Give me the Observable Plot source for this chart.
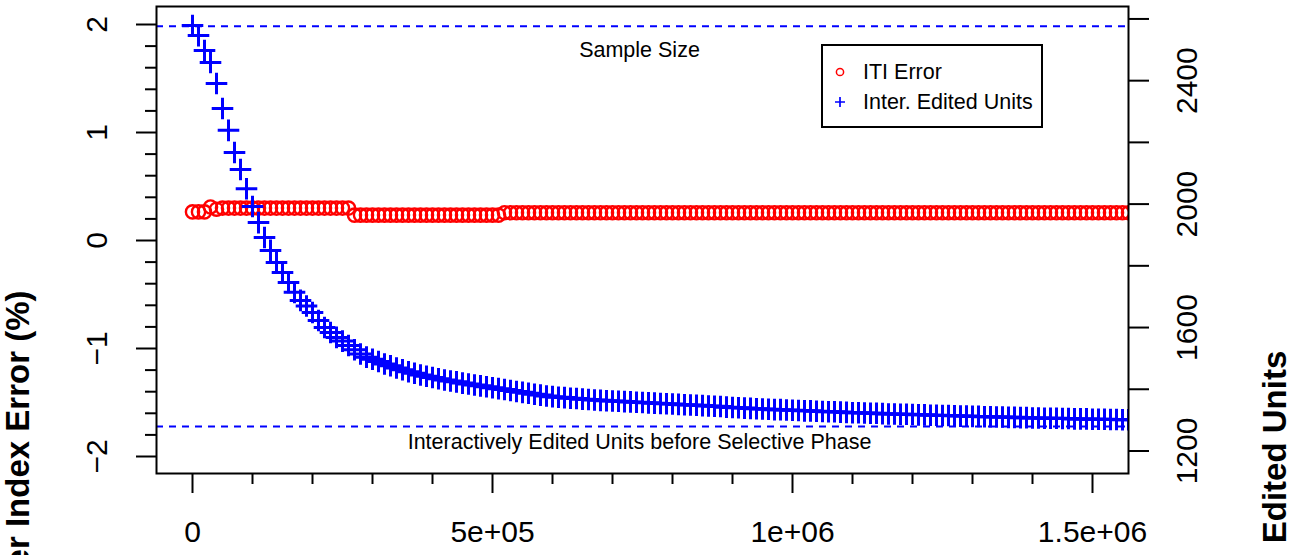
<!DOCTYPE html>
<html><head><meta charset="utf-8">
<script src="https://cdn.jsdelivr.net/npm/d3@7"></script>
<script src="https://cdn.jsdelivr.net/npm/@observablehq/plot@0.6"></script>
<style>
body{margin:0;background:#fff;}
#wrap{position:relative;width:1292px;height:555px;font-family:"Liberation Sans",Arial,sans-serif;background:#fff;}
#legend{position:absolute;left:821px;top:44px;width:222px;height:84px;box-sizing:border-box;border:2px solid #000;background:#fff;}
.sym{position:absolute;left:9px;width:16px;height:16px;}
.lab{position:absolute;left:40px;font-size:21.5px;line-height:24px;white-space:nowrap;color:#000;}
</style></head><body><div id="wrap"></div>
<script>
// ---- data ----
const xStep = 10000;
const itiError = [
0.265,0.265,0.265,0.31,0.29,0.30,0.30,
0.30,0.30,0.30,0.30,0.30,0.30,0.30,0.30,0.30,0.30,0.30,0.30,0.30,0.30,0.30,0.30,0.30,0.30,0.30,0.30,
0.235,0.235,0.235,0.235,0.235,0.235,0.235,0.235,0.235,0.235,0.235,0.235,0.235,0.235,0.235,0.235,0.235,0.235,0.235,0.235,0.235,0.235,0.235,0.235,0.235,
0.257,0.257,0.257,0.257,0.257,0.257,0.257,0.257,0.257,0.257,0.257,0.257,0.257,0.257,0.257,0.257,0.257,0.257,0.257,0.257,
0.257,0.257,0.257,0.257,0.257,0.257,0.257,0.257,0.257,0.257,0.257,0.257,0.257,0.257,0.257,0.257,0.257,0.257,0.257,0.257,
0.257,0.257,0.257,0.257,0.257,0.257,0.257,0.257,0.257,0.257,0.257,0.257,0.257,0.257,0.257,0.257,0.257,0.257,0.257,0.257,
0.257,0.257,0.257,0.257,0.257,0.257,0.257,0.257,0.257,0.257,0.257,0.257,0.257,0.257,0.257,0.257,0.257,0.257,0.257,0.257,
0.257,0.257,0.257,0.257,0.257,0.257,0.257,0.257,0.257,0.257,0.257,0.257,0.257,0.257,0.257,0.257,0.257,0.257,0.257,0.257,
0.257,0.257,0.257,0.257,0.257
];
const editedUnits = [
2579,2546,2498,2459,2391,2310,2239,2167,2112,2050,
1992,1940,1892,1850,1811,1778,1746,1714,1688,1670,
1649,1623,1600,1584,1568,1556,1542,1528,1514,1504,
1497,1490,1482,1476,1469,1463,1457,1452,1446,1442,
1438,1434,1430,1427,1424,1420,1417,1414,1411,1408,
1405,1402,1399,1396,1393,1390,1387,1384,1381,1378,
1376,1374,1373,1371,1370,1368,1367,1365,1364,1363,
1362,1361,1360,1359,1358,1357,1356,1355,1354,1353,
1352,1351,1350,1349,1348,1347,1346,1345,1344,1342,
1341,1340,1339,1338,1337,1336,1335,1334,1334,1333,
1332,1331,1330,1330,1329,1328,1327,1327,1326,1325,
1324,1324,1323,1322,1322,1321,1320,1320,1319,1319,
1318,1317,1317,1316,1316,1315,1315,1314,1313,1313,
1312,1312,1311,1311,1310,1310,1309,1309,1308,1308,
1307,1307,1306,1306,1306,1305,1305,1304,1304,1304,
1303,1303,1303,1302,1302,1301,1301
];
const sampleSize = 2576;
const unitsBeforeSelective = 1279;
const xTicks = [0, 500000, 1000000, 1500000];
const xTickLabels = ["0", "5e+05", "1e+06", "1.5e+06"];
const xMinorTicks = [100000,200000,300000,400000,600000,700000,800000,900000,1100000,1200000,1300000,1400000];
const leftTicks = [-2, -1, 0, 1, 2];
const leftTickLabels = ["\u22122", "\u22121", "0", "1", "2"];
const leftMinorTicks = [-1.8,-1.6,-1.4,-1.2,-0.8,-0.6,-0.4,-0.2,0.2,0.4,0.6,0.8,1.2,1.4,1.6,1.8];
const rightTicks = [1200, 1400, 1600, 1800, 2000, 2200, 2400, 2600];
const rightTickLabels = ["1200", "", "1600", "", "2000", "", "2400", ""];
const annotations = [
  {x: 745000, v: 2500, label: "Sample Size"},
  {x: 745000, v: 1230, label: "Interactively Edited Units before Selective Phase"}
];

// ---- secondary axis mapping (right axis units -> left axis units) ----
const rightAtLeftZero = 1882.05, rightPerLeft = 349.97;
const toL = v => (v - rightAtLeftZero) / rightPerLeft;

const redData = itiError.map((v, i) => ({x: i * xStep, y: v}));
const blueData = editedUnits.map((v, i) => ({x: i * xStep, y: toL(v)}));

const FS = 30;
const chart = Plot.plot({
  width: 1292, height: 555,
  marginLeft: 156, marginRight: 164, marginTop: 6, marginBottom: 82,
  x: {domain: [-60000, 1560000], axis: null},
  y: {domain: [-2.1574, 2.1667], axis: null},
  style: {fontFamily: "'Liberation Sans', Arial, sans-serif", background: "#fff", color: "#000"},
  marks: [
    Plot.ruleY([toL(sampleSize), toL(unitsBeforeSelective)], {stroke: "blue", strokeWidth: 2, strokeDasharray: "7,6"}),
    Plot.dot(redData, {x: "x", y: "y", r: 6.6, stroke: "red", strokeWidth: 2.4, fill: "none", clip: true}),
    Plot.dot(blueData, {x: "x", y: "y", symbol: "plus", r: 7, stroke: "blue", strokeWidth: 3, clip: true}),
    Plot.text(annotations, {x: "x", y: d => toL(d.v), text: "label", fontSize: 21.5, fill: "#000"}),
    Plot.frame({stroke: "#000", strokeWidth: 2}),
    Plot.axisY({ticks: leftTicks, anchor: "left", tickSize: 20, tickFormat: () => "", label: null, strokeWidth: 2}),
    Plot.axisY({ticks: leftMinorTicks, anchor: "left", tickSize: 11, tickFormat: () => "", label: null, strokeWidth: 2}),
    Plot.axisY({ticks: rightTicks.map(toL), anchor: "right", tickSize: 20, tickFormat: () => "", label: null, strokeWidth: 2}),
    Plot.axisX({ticks: xTicks, anchor: "bottom", tickSize: 20, tickFormat: () => "", label: null, strokeWidth: 2}),
    Plot.axisX({ticks: xMinorTicks, anchor: "bottom", tickSize: 11, tickFormat: () => "", label: null, strokeWidth: 2}),
    Plot.text(leftTicks, {y: d => d, text: (d, i) => leftTickLabels[i], frameAnchor: "left", dx: -59, rotate: -90, fontSize: FS, textAnchor: "middle", lineAnchor: "middle", fill: "#000"}),
    Plot.text(rightTicks, {y: d => toL(d), text: (d, i) => rightTickLabels[i], frameAnchor: "right", dx: 59, rotate: -90, fontSize: FS, textAnchor: "middle", lineAnchor: "middle", fill: "#000"}),
    Plot.text(xTicks, {x: d => d, text: (d, i) => xTickLabels[i], frameAnchor: "bottom", dy: 59, fontSize: FS, lineAnchor: "middle", fill: "#000"}),
    Plot.text(["Edited Units"], {text: d => d, frameAnchor: "right", dx: 147, dy: 207, rotate: -90, fontSize: 33, fontWeight: "bold", textAnchor: "middle", lineAnchor: "middle", fill: "#000"}),
    Plot.text(["er Index Error (%)"], {text: d => d, frameAnchor: "left", dx: -138, dy: 50.5, rotate: -90, textAnchor: "end", fontSize: 33, fontWeight: "bold", lineAnchor: "middle", fill: "#000"})
  ]
});
const wrap = document.getElementById("wrap");
wrap.appendChild(chart);
chart.style.position = "absolute"; chart.style.left = "0"; chart.style.top = "0";

// ---- legend ----
const legendItems = [
  {label: "ITI Error", color: "red", shape: "circle"},
  {label: "Inter. Edited Units", color: "blue", shape: "plus"}
];
const leg = document.createElement("div");
leg.id = "legend";
legendItems.forEach((it, k) => {
  const cy = 26 + k * 30;
  const s = document.createElementNS("http://www.w3.org/2000/svg", "svg");
  s.setAttribute("class", "sym"); s.setAttribute("width", 16); s.setAttribute("height", 16);
  s.style.top = (cy - 8) + "px";
  s.innerHTML = it.shape === "circle"
    ? `<circle cx="8" cy="8" r="3.6" fill="none" stroke="${it.color}" stroke-width="1.5"/>`
    : `<path d="M3,8H13M8,3V13" stroke="${it.color}" stroke-width="1.7" fill="none"/>`;
  leg.appendChild(s);
  const t = document.createElement("div");
  t.className = "lab"; t.textContent = it.label; t.style.top = (cy - 12) + "px";
  leg.appendChild(t);
});
wrap.appendChild(leg);
</script>
</body></html>
